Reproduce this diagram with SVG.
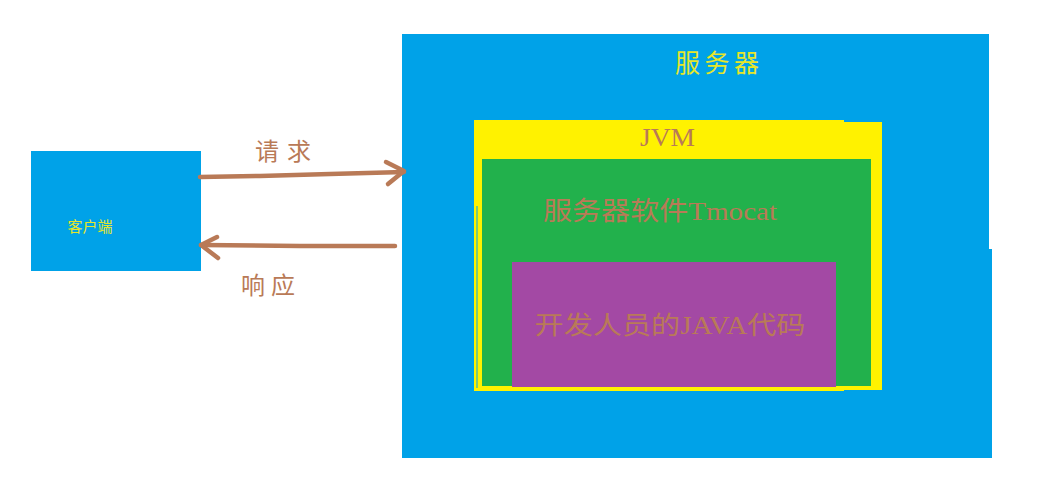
<svg xmlns="http://www.w3.org/2000/svg" width="1046" height="480" viewBox="0 0 1046 480">
<defs>
<style>
.blue{fill:#00a2e8}
.yellow{fill:#fff200}
.green{fill:#22b14c}
.purple{fill:#a349a4}
.cjk{font-family:"Liberation Serif","Noto Sans CJK SC",serif}
.brown{fill:#b97a57}
.ytxt{fill:#e6e62a}
.conn{fill:none;stroke:#b97a57;stroke-width:4.5;stroke-linecap:round;stroke-linejoin:round}
</style>
</defs>
<rect width="1046" height="480" fill="#ffffff"/>
<g id="client">
<rect class="blue" x="31" y="151" width="170" height="120"/>
<text class="cjk ytxt" x="90" y="232" font-size="15" text-anchor="middle" font-family="Noto Sans CJK SC,sans-serif">客户端</text>
</g>
<g id="server">
<rect class="blue" x="402" y="34" width="587" height="424"/>
<rect class="blue" x="980" y="249" width="12" height="209"/>
<text class="cjk ytxt" x="717" y="72" font-size="25" text-anchor="middle" textLength="84">服务器</text>
</g>
<g id="jvm">
<rect class="yellow" x="474" y="120" width="370" height="271"/>
<rect class="yellow" x="840" y="122" width="42" height="268"/>
<rect x="476.5" y="206" width="1" height="182" fill="#00a2e8"/>
<text class="cjk brown" x="667.5" y="146" font-size="26" text-anchor="middle" textLength="55" lengthAdjust="spacingAndGlyphs">JVM</text>
</g>
<g id="tomcat">
<rect class="green" x="482" y="159" width="389" height="227"/>
<text class="cjk brown" x="660" y="220" font-size="26" text-anchor="middle" textLength="234" lengthAdjust="spacingAndGlyphs">服务器软件Tmocat</text>
</g>
<g id="javacode">
<rect class="purple" x="512" y="262" width="324" height="125"/>
<text class="cjk brown" x="670" y="334" font-size="25" text-anchor="middle" textLength="271" lengthAdjust="spacingAndGlyphs">开发人员的JAVA代码</text>
</g>
<g id="connectors">
<path class="conn" d="M200 177 L260 176 L330 174 L404 172"/>
<path class="conn" d="M386 162 L404 171 L388 184"/>
<path class="conn" d="M395 246 L300 246 L201 245"/>
<path class="conn" d="M217 237 L201 245 L218 258"/>
<text class="cjk brown" x="283" y="160" font-size="24" text-anchor="middle" textLength="56">请求</text>
<text class="cjk brown" x="268" y="294" font-size="24" text-anchor="middle" textLength="54">响应</text>
</g>
</svg>
